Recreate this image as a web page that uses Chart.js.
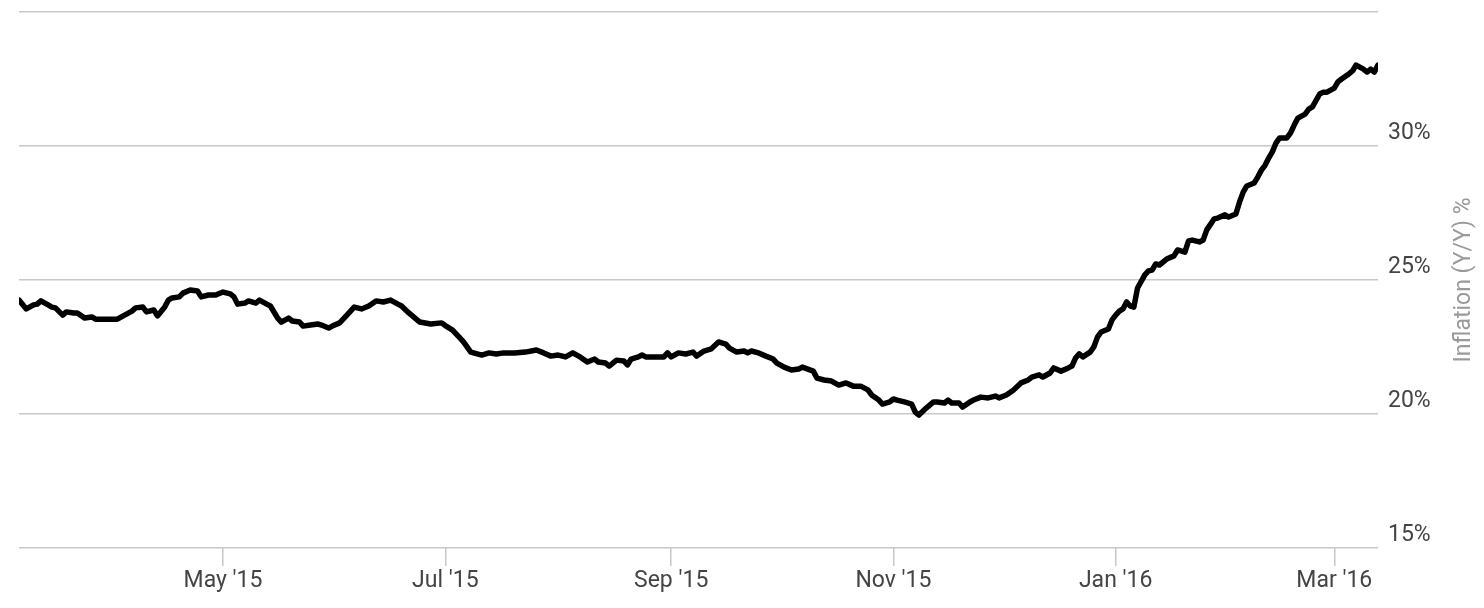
<!DOCTYPE html>
<html>
<head>
<meta charset="utf-8">
<script src="https://cdn.jsdelivr.net/npm/chart.js@4.4.1/dist/chart.umd.min.js"></script>
<style>
  html, body { margin: 0; padding: 0; background: #ffffff; }
  #wrap { width: 1484px; height: 608px; position: relative; }
</style>
</head>
<body>
<div id="wrap"><canvas id="c"></canvas></div>
<script>
// ---- Data ----
const startDate = '2015-03-06';
const endDate = '2016-03-13';
const dayOffsets = [0,2,4,5,6,8,9,10,12,13,15,16,18,20,21,23,25,27,29,31,32,34,35,37,38,40,41,42,44,45,47,49,50,52,54,56,58,59,60,62,63,65,66,68,69,71,72,74,75,77,78,80,82,83,85,86,88,90,92,94,96,98,100,102,104,105,107,110,113,116,117,119,121,122,124,127,129,131,133,136,139,142,144,146,148,150,152,154,156,158,159,161,162,164,166,167,168,170,171,172,174,177,178,179,181,183,185,186,188,190,192,194,195,197,199,200,201,203,205,207,208,210,212,214,215,218,219,221,223,225,227,229,231,233,234,236,237,239,240,241,243,245,246,247,249,251,252,254,255,256,258,259,261,262,264,266,268,269,271,273,275,277,278,280,281,283,284,286,288,289,290,291,292,294,295,296,297,299,300,301,302,303,304,305,306,307,309,310,311,312,313,315,317,318,320,321,322,324,325,326,328,329,331,332,334,335,336,337,339,340,341,342,343,344,345,346,348,349,350,351,353,354,355,357,358,359,361,362,363,365,366,367,369,370,371,372,373];
const inflation = [24.25,23.92,24.07,24.10,24.22,24.07,23.99,23.96,23.69,23.81,23.77,23.77,23.58,23.62,23.54,23.54,23.54,23.54,23.69,23.84,23.96,23.99,23.81,23.88,23.66,23.99,24.25,24.33,24.37,24.51,24.63,24.59,24.37,24.44,24.44,24.55,24.48,24.37,24.10,24.14,24.22,24.14,24.25,24.10,24.03,23.58,23.43,23.58,23.47,23.43,23.28,23.32,23.36,23.32,23.21,23.28,23.40,23.69,23.99,23.92,24.03,24.22,24.18,24.25,24.10,24.03,23.77,23.43,23.36,23.40,23.30,23.13,22.84,22.69,22.31,22.20,22.28,22.24,22.28,22.28,22.31,22.39,22.28,22.16,22.20,22.13,22.28,22.13,21.94,22.05,21.94,21.90,21.79,22.01,21.98,21.83,22.05,22.13,22.20,22.13,22.13,22.13,22.28,22.13,22.28,22.24,22.31,22.16,22.35,22.43,22.69,22.61,22.46,22.31,22.35,22.28,22.35,22.28,22.16,22.05,21.90,21.75,21.64,21.68,21.75,21.60,21.34,21.27,21.23,21.08,21.16,21.04,21.04,20.90,20.71,20.52,20.37,20.45,20.56,20.52,20.45,20.37,20.07,19.96,20.22,20.45,20.45,20.41,20.52,20.41,20.41,20.26,20.45,20.52,20.63,20.60,20.67,20.60,20.71,20.90,21.16,21.27,21.38,21.46,21.38,21.53,21.72,21.60,21.72,21.79,22.09,22.24,22.13,22.31,22.50,22.87,23.06,23.17,23.51,23.69,23.84,23.92,24.18,24.03,23.99,24.70,25.19,25.34,25.37,25.60,25.56,25.78,25.90,26.12,26.04,26.46,26.49,26.42,26.49,26.87,27.28,27.31,27.43,27.35,27.46,27.91,28.28,28.51,28.62,28.84,29.10,29.28,29.55,29.78,30.11,30.30,30.30,30.49,30.78,31.04,31.19,31.38,31.46,31.94,32.01,32.01,32.16,32.39,32.50,32.69,32.80,33.02,32.87,32.76,32.87,32.76,33.02];
const tickDates = ['2015-05-01','2015-07-01','2015-09-01','2015-11-01','2016-01-01','2016-03-01'];
const tickLabels = ["May '15","Jul '15","Sep '15","Nov '15","Jan '16","Mar '16"];
const yTicks = [15, 20, 25, 30, 35];
const yTitle = 'Inflation (Y/Y) %';

// ---- Helpers ----
const DAY = 86400000;
const toOffset = d => Math.round((Date.parse(d) - Date.parse(startDate)) / DAY);
const tickOffsets = tickDates.map(toOffset);
const points = dayOffsets.map((d, i) => ({ x: d, y: inflation[i] }));

const FONT = 'Roboto, "Noto Sans", sans-serif';
const GRID = '#c8c8c8';

const rightTitle = {
  id: 'rightTitle',
  afterDraw(chart) {
    const { ctx, chartArea } = chart;
    ctx.save();
    ctx.font = '400 23px ' + FONT;
    ctx.fillStyle = '#999999';
    ctx.textAlign = 'center';
    ctx.textBaseline = 'middle';
    ctx.translate(1464, (chartArea.top + chartArea.bottom) / 2);
    ctx.rotate(-Math.PI / 2);
    ctx.fillText(yTitle, 0, 0);
    ctx.restore();
  }
};

new Chart(document.getElementById('c'), {
  type: 'line',
  data: {
    datasets: [{
      data: points,
      borderColor: '#000000',
      borderWidth: 5.5,
      pointRadius: 0,
      tension: 0,
      borderJoinStyle: 'round',
      borderCapStyle: 'round',
      fill: false
    }]
  },
  options: {
    responsive: true,
    maintainAspectRatio: false,
    animation: false,
    layout: { padding: { left: 19, top: 12, right: 0, bottom: 0 } },
    plugins: { legend: { display: false }, tooltip: { enabled: false } },
    scales: {
      x: {
        type: 'linear',
        min: 0,
        max: toOffset(endDate),
        afterBuildTicks(scale) { scale.ticks = tickOffsets.map(v => ({ value: v })); },
        afterFit(scale) { scale.height = 60; scale.paddingLeft = 0; scale.paddingRight = 0; },
        grid: { drawOnChartArea: false, drawTicks: true, tickLength: 18, color: GRID, lineWidth: 1.5 },
        border: { display: false },
        ticks: {
          autoSkip: false,
          maxRotation: 0,
          padding: 1,
          color: '#444444',
          font: { family: FONT, size: 23, weight: '400' },
          callback(v) { const i = tickOffsets.indexOf(v); return i >= 0 ? tickLabels[i] : ''; }
        }
      },
      y: {
        position: 'right',
        min: yTicks[0],
        max: yTicks[yTicks.length - 1],
        afterBuildTicks(scale) { scale.ticks = yTicks.map(v => ({ value: v })); },
        afterFit(scale) { scale.width = 106; scale.paddingTop = 0; scale.paddingBottom = 0; },
        grid: { drawTicks: false, color: GRID, lineWidth: 1.5 },
        border: { display: false },
        ticks: {
          padding: 10,
          labelOffset: -13,
          color: '#444444',
          font: { family: FONT, size: 23, weight: '400' },
          callback(v) { return v === yTicks[yTicks.length - 1] ? '' : v + '%'; }
        }
      }
    }
  },
  plugins: [rightTitle]
});
</script>
</body>
</html>
